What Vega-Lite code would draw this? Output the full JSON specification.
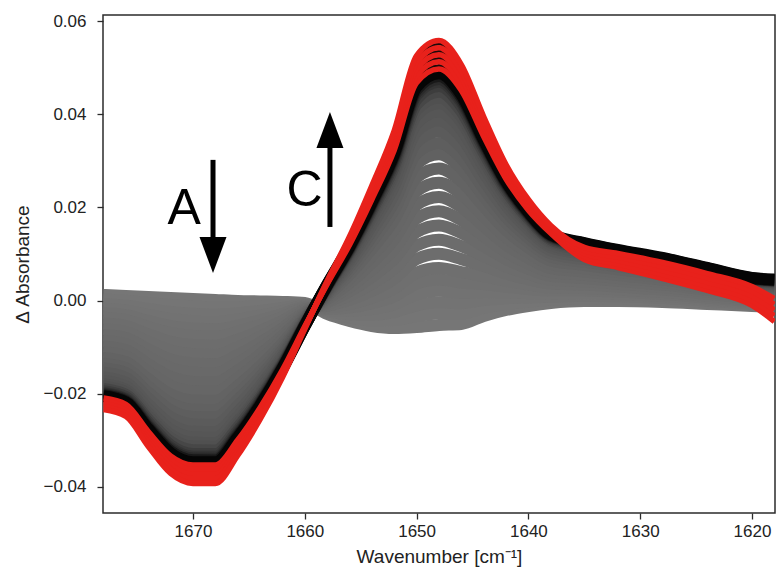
{
"$schema":"https://vega.github.io/schema/vega-lite/v6.json",
"width":672,"height":498,
"autosize":{"type":"none"},
"padding":{"left":103,"top":15,"right":3,"bottom":64},
"background":"white",
"config":{"view":{"stroke":"#2b2b2b","strokeWidth":1.5},"font":"Liberation Sans",
"axis":{"grid":false,"domain":false,"tickSize":6,"tickColor":"#2b2b2b","tickWidth":1.3,"labelFont":"Liberation Sans","titleFont":"Liberation Sans","labelFontSize":17,"titleFontSize":19,"labelColor":"#222","titleColor":"#222","titleFontWeight":"normal"}},
"datasets":{
"spectra":[
{"s":1,"x":1678,"y":0.0012},{"s":1,"x":1676,"y":0.00099},{"s":1,"x":1674,"y":0.00077},{"s":1,"x":1672,"y":0.00056},{"s":1,"x":1670,"y":0.00034},{"s":1,"x":1668,"y":0.00013},{"s":1,"x":1666,"y":-0.00009},{"s":1,"x":1664,"y":-0.00019},{"s":1,"x":1662,"y":-0.0003},{"s":1,"x":1660,"y":-0.00052},{"s":1,"x":1658,"y":-0.00288},{"s":1,"x":1656,"y":-0.00438},{"s":1,"x":1654,"y":-0.00545},{"s":1,"x":1652,"y":-0.00588},{"s":1,"x":1650,"y":-0.00567},{"s":1,"x":1648,"y":-0.00524},{"s":1,"x":1646,"y":-0.00502},{"s":1,"x":1644,"y":-0.0033},{"s":1,"x":1642,"y":-0.00202},{"s":1,"x":1640,"y":-0.00116},{"s":1,"x":1638,"y":-0.00052},{"s":1,"x":1635,"y":-0.00009},{"s":1,"x":1632,"y":-0.00009},{"s":1,"x":1628,"y":-0.0003},{"s":1,"x":1624,"y":-0.00073},{"s":1,"x":1620,"y":-0.00116},{"s":1,"x":1618,"y":-0.00137},
{"s":2,"x":1678,"y":0.00022},{"s":2,"x":1676,"y":-0.00004},{"s":2,"x":1674,"y":-0.00051},{"s":2,"x":1672,"y":-0.00095},{"s":2,"x":1670,"y":-0.00124},{"s":2,"x":1668,"y":-0.00145},{"s":2,"x":1666,"y":-0.00142},{"s":2,"x":1664,"y":-0.0012},{"s":2,"x":1662,"y":-0.00095},{"s":2,"x":1660,"y":-0.00074},{"s":2,"x":1658,"y":-0.0026},{"s":2,"x":1656,"y":-0.00365},{"s":2,"x":1654,"y":-0.00424},{"s":2,"x":1652,"y":-0.00419},{"s":2,"x":1650,"y":-0.00334},{"s":2,"x":1648,"y":-0.0028},{"s":2,"x":1646,"y":-0.00279},{"s":2,"x":1644,"y":-0.00159},{"s":2,"x":1642,"y":-0.00077},{"s":2,"x":1640,"y":-0.00025},{"s":2,"x":1638,"y":0.00015},{"s":2,"x":1635,"y":0.00047},{"s":2,"x":1632,"y":0.00041},{"s":2,"x":1628,"y":0.00013},{"s":2,"x":1624,"y":-0.00038},{"s":2,"x":1620,"y":-0.00089},{"s":2,"x":1618,"y":-0.0011},
{"s":3,"x":1678,"y":-0.00077},{"s":3,"x":1676,"y":-0.00108},{"s":3,"x":1674,"y":-0.0018},{"s":3,"x":1672,"y":-0.00245},{"s":3,"x":1670,"y":-0.00283},{"s":3,"x":1668,"y":-0.00302},{"s":3,"x":1666,"y":-0.00274},{"s":3,"x":1664,"y":-0.00222},{"s":3,"x":1662,"y":-0.0016},{"s":3,"x":1660,"y":-0.00097},{"s":3,"x":1658,"y":-0.00231},{"s":3,"x":1656,"y":-0.00293},{"s":3,"x":1654,"y":-0.00304},{"s":3,"x":1652,"y":-0.00249},{"s":3,"x":1650,"y":-0.00101},{"s":3,"x":1648,"y":-0.00036},{"s":3,"x":1646,"y":-0.00057},{"s":3,"x":1644,"y":0.00013},{"s":3,"x":1642,"y":0.00048},{"s":3,"x":1640,"y":0.00067},{"s":3,"x":1638,"y":0.00081},{"s":3,"x":1635,"y":0.00104},{"s":3,"x":1632,"y":0.0009},{"s":3,"x":1628,"y":0.00055},{"s":3,"x":1624,"y":-0.00003},{"s":3,"x":1620,"y":-0.00062},{"s":3,"x":1618,"y":-0.00084},
{"s":4,"x":1678,"y":-0.00175},{"s":4,"x":1676,"y":-0.00211},{"s":4,"x":1674,"y":-0.00308},{"s":4,"x":1672,"y":-0.00396},{"s":4,"x":1670,"y":-0.00441},{"s":4,"x":1668,"y":-0.0046},{"s":4,"x":1666,"y":-0.00407},{"s":4,"x":1664,"y":-0.00323},{"s":4,"x":1662,"y":-0.00224},{"s":4,"x":1660,"y":-0.00119},{"s":4,"x":1658,"y":-0.00203},{"s":4,"x":1656,"y":-0.0022},{"s":4,"x":1654,"y":-0.00183},{"s":4,"x":1652,"y":-0.00079},{"s":4,"x":1650,"y":0.00132},{"s":4,"x":1648,"y":0.00209},{"s":4,"x":1646,"y":0.00166},{"s":4,"x":1644,"y":0.00184},{"s":4,"x":1642,"y":0.00173},{"s":4,"x":1640,"y":0.00158},{"s":4,"x":1638,"y":0.00148},{"s":4,"x":1635,"y":0.0016},{"s":4,"x":1632,"y":0.0014},{"s":4,"x":1628,"y":0.00098},{"s":4,"x":1624,"y":0.00032},{"s":4,"x":1620,"y":-0.00035},{"s":4,"x":1618,"y":-0.00057},
{"s":5,"x":1678,"y":-0.00273},{"s":5,"x":1676,"y":-0.00315},{"s":5,"x":1674,"y":-0.00436},{"s":5,"x":1672,"y":-0.00547},{"s":5,"x":1670,"y":-0.00599},{"s":5,"x":1668,"y":-0.00617},{"s":5,"x":1666,"y":-0.00539},{"s":5,"x":1664,"y":-0.00424},{"s":5,"x":1662,"y":-0.00289},{"s":5,"x":1660,"y":-0.00141},{"s":5,"x":1658,"y":-0.00175},{"s":5,"x":1656,"y":-0.00148},{"s":5,"x":1654,"y":-0.00063},{"s":5,"x":1652,"y":0.0009},{"s":5,"x":1650,"y":0.00365},{"s":5,"x":1648,"y":0.00453},{"s":5,"x":1646,"y":0.00389},{"s":5,"x":1644,"y":0.00355},{"s":5,"x":1642,"y":0.00298},{"s":5,"x":1640,"y":0.0025},{"s":5,"x":1638,"y":0.00214},{"s":5,"x":1635,"y":0.00216},{"s":5,"x":1632,"y":0.00189},{"s":5,"x":1628,"y":0.00141},{"s":5,"x":1624,"y":0.00067},{"s":5,"x":1620,"y":-0.00007},{"s":5,"x":1618,"y":-0.00031},
{"s":6,"x":1678,"y":-0.00371},{"s":6,"x":1676,"y":-0.00418},{"s":6,"x":1674,"y":-0.00565},{"s":6,"x":1672,"y":-0.00697},{"s":6,"x":1670,"y":-0.00758},{"s":6,"x":1668,"y":-0.00775},{"s":6,"x":1666,"y":-0.00672},{"s":6,"x":1664,"y":-0.00526},{"s":6,"x":1662,"y":-0.00354},{"s":6,"x":1660,"y":-0.00163},{"s":6,"x":1658,"y":-0.00146},{"s":6,"x":1656,"y":-0.00075},{"s":6,"x":1654,"y":0.00058},{"s":6,"x":1652,"y":0.0026},{"s":6,"x":1650,"y":0.00598},{"s":6,"x":1648,"y":0.00697},{"s":6,"x":1646,"y":0.00612},{"s":6,"x":1644,"y":0.00526},{"s":6,"x":1642,"y":0.00423},{"s":6,"x":1640,"y":0.00341},{"s":6,"x":1638,"y":0.00281},{"s":6,"x":1635,"y":0.00272},{"s":6,"x":1632,"y":0.00239},{"s":6,"x":1628,"y":0.00183},{"s":6,"x":1624,"y":0.00102},{"s":6,"x":1620,"y":0.0002},{"s":6,"x":1618,"y":-0.00004},
{"s":7,"x":1678,"y":-0.00494},{"s":7,"x":1676,"y":-0.00548},{"s":7,"x":1674,"y":-0.00725},{"s":7,"x":1672,"y":-0.00886},{"s":7,"x":1670,"y":-0.00956},{"s":7,"x":1668,"y":-0.00972},{"s":7,"x":1666,"y":-0.00838},{"s":7,"x":1664,"y":-0.00652},{"s":7,"x":1662,"y":-0.00435},{"s":7,"x":1660,"y":-0.00191},{"s":7,"x":1658,"y":-0.00111},{"s":7,"x":1656,"y":0.00016},{"s":7,"x":1654,"y":0.00209},{"s":7,"x":1652,"y":0.00472},{"s":7,"x":1650,"y":0.0089},{"s":7,"x":1648,"y":0.01003},{"s":7,"x":1646,"y":0.0089},{"s":7,"x":1644,"y":0.0074},{"s":7,"x":1642,"y":0.00579},{"s":7,"x":1640,"y":0.00456},{"s":7,"x":1638,"y":0.00364},{"s":7,"x":1635,"y":0.00343},{"s":7,"x":1632,"y":0.003},{"s":7,"x":1628,"y":0.00237},{"s":7,"x":1624,"y":0.00145},{"s":7,"x":1620,"y":0.00054},{"s":7,"x":1618,"y":0.00029},
{"s":8,"x":1678,"y":-0.00617},{"s":8,"x":1676,"y":-0.00677},{"s":8,"x":1674,"y":-0.00885},{"s":8,"x":1672,"y":-0.01074},{"s":8,"x":1670,"y":-0.01154},{"s":8,"x":1668,"y":-0.01168},{"s":8,"x":1666,"y":-0.01004},{"s":8,"x":1664,"y":-0.00779},{"s":8,"x":1662,"y":-0.00516},{"s":8,"x":1660,"y":-0.00219},{"s":8,"x":1658,"y":-0.00075},{"s":8,"x":1656,"y":0.00106},{"s":8,"x":1654,"y":0.0036},{"s":8,"x":1652,"y":0.00683},{"s":8,"x":1650,"y":0.01181},{"s":8,"x":1648,"y":0.01308},{"s":8,"x":1646,"y":0.01169},{"s":8,"x":1644,"y":0.00954},{"s":8,"x":1642,"y":0.00735},{"s":8,"x":1640,"y":0.0057},{"s":8,"x":1638,"y":0.00447},{"s":8,"x":1635,"y":0.00413},{"s":8,"x":1632,"y":0.00362},{"s":8,"x":1628,"y":0.0029},{"s":8,"x":1624,"y":0.00189},{"s":8,"x":1620,"y":0.00088},{"s":8,"x":1618,"y":0.00062},
{"s":9,"x":1678,"y":-0.0074},{"s":9,"x":1676,"y":-0.00806},{"s":9,"x":1674,"y":-0.01046},{"s":9,"x":1672,"y":-0.01262},{"s":9,"x":1670,"y":-0.01352},{"s":9,"x":1668,"y":-0.01365},{"s":9,"x":1666,"y":-0.01169},{"s":9,"x":1664,"y":-0.00906},{"s":9,"x":1662,"y":-0.00597},{"s":9,"x":1660,"y":-0.00247},{"s":9,"x":1658,"y":-0.0004},{"s":9,"x":1656,"y":0.00197},{"s":9,"x":1654,"y":0.0051},{"s":9,"x":1652,"y":0.00895},{"s":9,"x":1650,"y":0.01473},{"s":9,"x":1648,"y":0.01613},{"s":9,"x":1646,"y":0.01447},{"s":9,"x":1644,"y":0.01168},{"s":9,"x":1642,"y":0.00891},{"s":9,"x":1640,"y":0.00684},{"s":9,"x":1638,"y":0.0053},{"s":9,"x":1635,"y":0.00483},{"s":9,"x":1632,"y":0.00424},{"s":9,"x":1628,"y":0.00343},{"s":9,"x":1624,"y":0.00233},{"s":9,"x":1620,"y":0.00122},{"s":9,"x":1618,"y":0.00095},
{"s":10,"x":1678,"y":-0.00863},{"s":10,"x":1676,"y":-0.00935},{"s":10,"x":1674,"y":-0.01206},{"s":10,"x":1672,"y":-0.0145},{"s":10,"x":1670,"y":-0.0155},{"s":10,"x":1668,"y":-0.01562},{"s":10,"x":1666,"y":-0.01335},{"s":10,"x":1664,"y":-0.01032},{"s":10,"x":1662,"y":-0.00678},{"s":10,"x":1660,"y":-0.00275},{"s":10,"x":1658,"y":-0.00004},{"s":10,"x":1656,"y":0.00288},{"s":10,"x":1654,"y":0.00661},{"s":10,"x":1652,"y":0.01107},{"s":10,"x":1650,"y":0.01764},{"s":10,"x":1648,"y":0.01918},{"s":10,"x":1646,"y":0.01726},{"s":10,"x":1644,"y":0.01382},{"s":10,"x":1642,"y":0.01047},{"s":10,"x":1640,"y":0.00798},{"s":10,"x":1638,"y":0.00614},{"s":10,"x":1635,"y":0.00554},{"s":10,"x":1632,"y":0.00486},{"s":10,"x":1628,"y":0.00397},{"s":10,"x":1624,"y":0.00276},{"s":10,"x":1620,"y":0.00156},{"s":10,"x":1618,"y":0.00128},
{"s":11,"x":1678,"y":-0.00986},{"s":11,"x":1676,"y":-0.01065},{"s":11,"x":1674,"y":-0.01367},{"s":11,"x":1672,"y":-0.01639},{"s":11,"x":1670,"y":-0.01748},{"s":11,"x":1668,"y":-0.01759},{"s":11,"x":1666,"y":-0.01501},{"s":11,"x":1664,"y":-0.01159},{"s":11,"x":1662,"y":-0.00759},{"s":11,"x":1660,"y":-0.00303},{"s":11,"x":1658,"y":0.00031},{"s":11,"x":1656,"y":0.00378},{"s":11,"x":1654,"y":0.00812},{"s":11,"x":1652,"y":0.01319},{"s":11,"x":1650,"y":0.02055},{"s":11,"x":1648,"y":0.02224},{"s":11,"x":1646,"y":0.02004},{"s":11,"x":1644,"y":0.01597},{"s":11,"x":1642,"y":0.01203},{"s":11,"x":1640,"y":0.00913},{"s":11,"x":1638,"y":0.00697},{"s":11,"x":1635,"y":0.00624},{"s":11,"x":1632,"y":0.00548},{"s":11,"x":1628,"y":0.0045},{"s":11,"x":1624,"y":0.0032},{"s":11,"x":1620,"y":0.0019},{"s":11,"x":1618,"y":0.00162},
{"s":12,"x":1678,"y":-0.01109},{"s":12,"x":1676,"y":-0.01194},{"s":12,"x":1674,"y":-0.01527},{"s":12,"x":1672,"y":-0.01827},{"s":12,"x":1670,"y":-0.01946},{"s":12,"x":1668,"y":-0.01956},{"s":12,"x":1666,"y":-0.01667},{"s":12,"x":1664,"y":-0.01286},{"s":12,"x":1662,"y":-0.0084},{"s":12,"x":1660,"y":-0.00331},{"s":12,"x":1658,"y":0.00067},{"s":12,"x":1656,"y":0.00469},{"s":12,"x":1654,"y":0.00963},{"s":12,"x":1652,"y":0.01531},{"s":12,"x":1650,"y":0.02347},{"s":12,"x":1648,"y":0.02529},{"s":12,"x":1646,"y":0.02283},{"s":12,"x":1644,"y":0.01811},{"s":12,"x":1642,"y":0.0136},{"s":12,"x":1640,"y":0.01027},{"s":12,"x":1638,"y":0.0078},{"s":12,"x":1635,"y":0.00694},{"s":12,"x":1632,"y":0.0061},{"s":12,"x":1628,"y":0.00503},{"s":12,"x":1624,"y":0.00364},{"s":12,"x":1620,"y":0.00224},{"s":12,"x":1618,"y":0.00195},
{"s":13,"x":1678,"y":-0.01231},{"s":13,"x":1676,"y":-0.01323},{"s":13,"x":1674,"y":-0.01687},{"s":13,"x":1672,"y":-0.02015},{"s":13,"x":1670,"y":-0.02144},{"s":13,"x":1668,"y":-0.02153},{"s":13,"x":1666,"y":-0.01832},{"s":13,"x":1664,"y":-0.01412},{"s":13,"x":1662,"y":-0.00921},{"s":13,"x":1660,"y":-0.00358},{"s":13,"x":1658,"y":0.00102},{"s":13,"x":1656,"y":0.0056},{"s":13,"x":1654,"y":0.01113},{"s":13,"x":1652,"y":0.01743},{"s":13,"x":1650,"y":0.02638},{"s":13,"x":1648,"y":0.02834},{"s":13,"x":1646,"y":0.02561},{"s":13,"x":1644,"y":0.02025},{"s":13,"x":1642,"y":0.01516},{"s":13,"x":1640,"y":0.01141},{"s":13,"x":1638,"y":0.00863},{"s":13,"x":1635,"y":0.00765},{"s":13,"x":1632,"y":0.00672},{"s":13,"x":1628,"y":0.00557},{"s":13,"x":1624,"y":0.00407},{"s":13,"x":1620,"y":0.00258},{"s":13,"x":1618,"y":0.00228},
{"s":14,"x":1678,"y":-0.01354},{"s":14,"x":1676,"y":-0.01453},{"s":14,"x":1674,"y":-0.01848},{"s":14,"x":1672,"y":-0.02204},{"s":14,"x":1670,"y":-0.02341},{"s":14,"x":1668,"y":-0.0235},{"s":14,"x":1666,"y":-0.01998},{"s":14,"x":1664,"y":-0.01539},{"s":14,"x":1662,"y":-0.01002},{"s":14,"x":1660,"y":-0.00386},{"s":14,"x":1658,"y":0.00137},{"s":14,"x":1656,"y":0.0065},{"s":14,"x":1654,"y":0.01264},{"s":14,"x":1652,"y":0.01955},{"s":14,"x":1650,"y":0.02929},{"s":14,"x":1648,"y":0.0314},{"s":14,"x":1646,"y":0.02839},{"s":14,"x":1644,"y":0.02239},{"s":14,"x":1642,"y":0.01672},{"s":14,"x":1640,"y":0.01256},{"s":14,"x":1638,"y":0.00946},{"s":14,"x":1635,"y":0.00835},{"s":14,"x":1632,"y":0.00733},{"s":14,"x":1628,"y":0.0061},{"s":14,"x":1624,"y":0.00451},{"s":14,"x":1620,"y":0.00292},{"s":14,"x":1618,"y":0.00261},
{"s":15,"x":1678,"y":-0.01453},{"s":15,"x":1676,"y":-0.01556},{"s":15,"x":1674,"y":-0.01976},{"s":15,"x":1672,"y":-0.02354},{"s":15,"x":1670,"y":-0.025},{"s":15,"x":1668,"y":-0.02507},{"s":15,"x":1666,"y":-0.02131},{"s":15,"x":1664,"y":-0.0164},{"s":15,"x":1662,"y":-0.01067},{"s":15,"x":1660,"y":-0.00409},{"s":15,"x":1658,"y":0.00166},{"s":15,"x":1656,"y":0.00723},{"s":15,"x":1654,"y":0.01385},{"s":15,"x":1652,"y":0.02124},{"s":15,"x":1650,"y":0.03162},{"s":15,"x":1648,"y":0.03384},{"s":15,"x":1646,"y":0.03062},{"s":15,"x":1644,"y":0.0241},{"s":15,"x":1642,"y":0.01797},{"s":15,"x":1640,"y":0.01347},{"s":15,"x":1638,"y":0.01013},{"s":15,"x":1635,"y":0.00891},{"s":15,"x":1632,"y":0.00783},{"s":15,"x":1628,"y":0.00653},{"s":15,"x":1624,"y":0.00486},{"s":15,"x":1620,"y":0.00319},{"s":15,"x":1618,"y":0.00288},
{"s":16,"x":1678,"y":-0.01551},{"s":16,"x":1676,"y":-0.0166},{"s":16,"x":1674,"y":-0.02104},{"s":16,"x":1672,"y":-0.02505},{"s":16,"x":1670,"y":-0.02658},{"s":16,"x":1668,"y":-0.02665},{"s":16,"x":1666,"y":-0.02263},{"s":16,"x":1664,"y":-0.01741},{"s":16,"x":1662,"y":-0.01132},{"s":16,"x":1660,"y":-0.00431},{"s":16,"x":1658,"y":0.00194},{"s":16,"x":1656,"y":0.00796},{"s":16,"x":1654,"y":0.01505},{"s":16,"x":1652,"y":0.02294},{"s":16,"x":1650,"y":0.03395},{"s":16,"x":1648,"y":0.03628},{"s":16,"x":1646,"y":0.03285},{"s":16,"x":1644,"y":0.02581},{"s":16,"x":1642,"y":0.01922},{"s":16,"x":1640,"y":0.01439},{"s":16,"x":1638,"y":0.01079},{"s":16,"x":1635,"y":0.00948},{"s":16,"x":1632,"y":0.00832},{"s":16,"x":1628,"y":0.00695},{"s":16,"x":1624,"y":0.00521},{"s":16,"x":1620,"y":0.00346},{"s":16,"x":1618,"y":0.00314},
{"s":17,"x":1678,"y":-0.01649},{"s":17,"x":1676,"y":-0.01763},{"s":17,"x":1674,"y":-0.02233},{"s":17,"x":1672,"y":-0.02656},{"s":17,"x":1670,"y":-0.02817},{"s":17,"x":1668,"y":-0.02822},{"s":17,"x":1666,"y":-0.02396},{"s":17,"x":1664,"y":-0.01843},{"s":17,"x":1662,"y":-0.01196},{"s":17,"x":1660,"y":-0.00453},{"s":17,"x":1658,"y":0.00223},{"s":17,"x":1656,"y":0.00868},{"s":17,"x":1654,"y":0.01626},{"s":17,"x":1652,"y":0.02463},{"s":17,"x":1650,"y":0.03628},{"s":17,"x":1648,"y":0.03872},{"s":17,"x":1646,"y":0.03508},{"s":17,"x":1644,"y":0.02752},{"s":17,"x":1642,"y":0.02047},{"s":17,"x":1640,"y":0.0153},{"s":17,"x":1638,"y":0.01146},{"s":17,"x":1635,"y":0.01004},{"s":17,"x":1632,"y":0.00882},{"s":17,"x":1628,"y":0.00738},{"s":17,"x":1624,"y":0.00556},{"s":17,"x":1620,"y":0.00373},{"s":17,"x":1618,"y":0.00341},
{"s":18,"x":1678,"y":-0.01723},{"s":18,"x":1676,"y":-0.01841},{"s":18,"x":1674,"y":-0.02329},{"s":18,"x":1672,"y":-0.02769},{"s":18,"x":1670,"y":-0.02935},{"s":18,"x":1668,"y":-0.02941},{"s":18,"x":1666,"y":-0.02495},{"s":18,"x":1664,"y":-0.01919},{"s":18,"x":1662,"y":-0.01245},{"s":18,"x":1660,"y":-0.0047},{"s":18,"x":1658,"y":0.00244},{"s":18,"x":1656,"y":0.00923},{"s":18,"x":1654,"y":0.01716},{"s":18,"x":1652,"y":0.02591},{"s":18,"x":1650,"y":0.03803},{"s":18,"x":1648,"y":0.04056},{"s":18,"x":1646,"y":0.03675},{"s":18,"x":1644,"y":0.02881},{"s":18,"x":1642,"y":0.0214},{"s":18,"x":1640,"y":0.01599},{"s":18,"x":1638,"y":0.01196},{"s":18,"x":1635,"y":0.01046},{"s":18,"x":1632,"y":0.00919},{"s":18,"x":1628,"y":0.0077},{"s":18,"x":1624,"y":0.00582},{"s":18,"x":1620,"y":0.00393},{"s":18,"x":1618,"y":0.00361},
{"s":19,"x":1678,"y":-0.01797},{"s":19,"x":1676,"y":-0.01918},{"s":19,"x":1674,"y":-0.02425},{"s":19,"x":1672,"y":-0.02882},{"s":19,"x":1670,"y":-0.03054},{"s":19,"x":1668,"y":-0.03059},{"s":19,"x":1666,"y":-0.02595},{"s":19,"x":1664,"y":-0.01995},{"s":19,"x":1662,"y":-0.01294},{"s":19,"x":1660,"y":-0.00487},{"s":19,"x":1658,"y":0.00265},{"s":19,"x":1656,"y":0.00977},{"s":19,"x":1654,"y":0.01807},{"s":19,"x":1652,"y":0.02718},{"s":19,"x":1650,"y":0.03978},{"s":19,"x":1648,"y":0.04239},{"s":19,"x":1646,"y":0.03842},{"s":19,"x":1644,"y":0.03009},{"s":19,"x":1642,"y":0.02234},{"s":19,"x":1640,"y":0.01667},{"s":19,"x":1638,"y":0.01246},{"s":19,"x":1635,"y":0.01088},{"s":19,"x":1632,"y":0.00956},{"s":19,"x":1628,"y":0.00802},{"s":19,"x":1624,"y":0.00608},{"s":19,"x":1620,"y":0.00414},{"s":19,"x":1618,"y":0.0038},
{"s":20,"x":1678,"y":-0.01846},{"s":20,"x":1676,"y":-0.0197},{"s":20,"x":1674,"y":-0.02489},{"s":20,"x":1672,"y":-0.02957},{"s":20,"x":1670,"y":-0.03133},{"s":20,"x":1668,"y":-0.03137},{"s":20,"x":1666,"y":-0.02661},{"s":20,"x":1664,"y":-0.02045},{"s":20,"x":1662,"y":-0.01326},{"s":20,"x":1660,"y":-0.00498},{"s":20,"x":1658,"y":0.00279},{"s":20,"x":1656,"y":0.01013},{"s":20,"x":1654,"y":0.01867},{"s":20,"x":1652,"y":0.02802},{"s":20,"x":1650,"y":0.04095},{"s":20,"x":1648,"y":0.04361},{"s":20,"x":1646,"y":0.03953},{"s":20,"x":1644,"y":0.03095},{"s":20,"x":1642,"y":0.02296},{"s":20,"x":1640,"y":0.01713},{"s":20,"x":1638,"y":0.01279},{"s":20,"x":1635,"y":0.01117},{"s":20,"x":1632,"y":0.00981},{"s":20,"x":1628,"y":0.00823},{"s":20,"x":1624,"y":0.00626},{"s":20,"x":1620,"y":0.00427},{"s":20,"x":1618,"y":0.00394},
{"s":21,"x":1678,"y":-0.01895},{"s":21,"x":1676,"y":-0.02022},{"s":21,"x":1674,"y":-0.02554},{"s":21,"x":1672,"y":-0.03032},{"s":21,"x":1670,"y":-0.03212},{"s":21,"x":1668,"y":-0.03216},{"s":21,"x":1666,"y":-0.02727},{"s":21,"x":1664,"y":-0.02096},{"s":21,"x":1662,"y":-0.01358},{"s":21,"x":1660,"y":-0.00509},{"s":21,"x":1658,"y":0.00293},{"s":21,"x":1656,"y":0.0105},{"s":21,"x":1654,"y":0.01927},{"s":21,"x":1652,"y":0.02887},{"s":21,"x":1650,"y":0.04211},{"s":21,"x":1648,"y":0.04483},{"s":21,"x":1646,"y":0.04065},{"s":21,"x":1644,"y":0.0318},{"s":21,"x":1642,"y":0.02359},{"s":21,"x":1640,"y":0.01759},{"s":21,"x":1638,"y":0.01312},{"s":21,"x":1635,"y":0.01145},{"s":21,"x":1632,"y":0.01006},{"s":21,"x":1628,"y":0.00845},{"s":21,"x":1624,"y":0.00643},{"s":21,"x":1620,"y":0.00441},{"s":21,"x":1618,"y":0.00407},
{"s":22,"x":1678,"y":-0.01944},{"s":22,"x":1676,"y":-0.02073},{"s":22,"x":1674,"y":-0.02618},{"s":22,"x":1672,"y":-0.03107},{"s":22,"x":1670,"y":-0.03292},{"s":22,"x":1668,"y":-0.03295},{"s":22,"x":1666,"y":-0.02794},{"s":22,"x":1664,"y":-0.02147},{"s":22,"x":1662,"y":-0.01391},{"s":22,"x":1660,"y":-0.0052},{"s":22,"x":1658,"y":0.00308},{"s":22,"x":1656,"y":0.01086},{"s":22,"x":1654,"y":0.01988},{"s":22,"x":1652,"y":0.02972},{"s":22,"x":1650,"y":0.04328},{"s":22,"x":1648,"y":0.04605},{"s":22,"x":1646,"y":0.04176},{"s":22,"x":1644,"y":0.03266},{"s":22,"x":1642,"y":0.02421},{"s":22,"x":1640,"y":0.01804},{"s":22,"x":1638,"y":0.01346},{"s":22,"x":1635,"y":0.01173},{"s":22,"x":1632,"y":0.0103},{"s":22,"x":1628,"y":0.00866},{"s":22,"x":1624,"y":0.00661},{"s":22,"x":1620,"y":0.00455},{"s":22,"x":1618,"y":0.0042},
{"s":23,"x":1678,"y":-0.01981},{"s":23,"x":1676,"y":-0.02112},{"s":23,"x":1674,"y":-0.02666},{"s":23,"x":1672,"y":-0.03164},{"s":23,"x":1670,"y":-0.03351},{"s":23,"x":1668,"y":-0.03354},{"s":23,"x":1666,"y":-0.02843},{"s":23,"x":1664,"y":-0.02185},{"s":23,"x":1662,"y":-0.01415},{"s":23,"x":1660,"y":-0.00528},{"s":23,"x":1658,"y":0.00318},{"s":23,"x":1656,"y":0.01113},{"s":23,"x":1654,"y":0.02033},{"s":23,"x":1652,"y":0.03036},{"s":23,"x":1650,"y":0.04415},{"s":23,"x":1648,"y":0.04697},{"s":23,"x":1646,"y":0.0426},{"s":23,"x":1644,"y":0.0333},{"s":23,"x":1642,"y":0.02468},{"s":23,"x":1640,"y":0.01839},{"s":23,"x":1638,"y":0.01371},{"s":23,"x":1635,"y":0.01194},{"s":23,"x":1632,"y":0.01049},{"s":23,"x":1628,"y":0.00882},{"s":23,"x":1624,"y":0.00674},{"s":23,"x":1620,"y":0.00465},{"s":23,"x":1618,"y":0.0043},
{"s":24,"x":1678,"y":-0.02005},{"s":24,"x":1676,"y":-0.02138},{"s":24,"x":1674,"y":-0.02698},{"s":24,"x":1672,"y":-0.03202},{"s":24,"x":1670,"y":-0.03391},{"s":24,"x":1668,"y":-0.03393},{"s":24,"x":1666,"y":-0.02877},{"s":24,"x":1664,"y":-0.0221},{"s":24,"x":1662,"y":-0.01431},{"s":24,"x":1660,"y":-0.00534},{"s":24,"x":1658,"y":0.00325},{"s":24,"x":1656,"y":0.01131},{"s":24,"x":1654,"y":0.02063},{"s":24,"x":1652,"y":0.03078},{"s":24,"x":1650,"y":0.04473},{"s":24,"x":1648,"y":0.04758},{"s":24,"x":1646,"y":0.04315},{"s":24,"x":1644,"y":0.03373},{"s":24,"x":1642,"y":0.02499},{"s":24,"x":1640,"y":0.01861},{"s":24,"x":1638,"y":0.01387},{"s":24,"x":1635,"y":0.01208},{"s":24,"x":1632,"y":0.01061},{"s":24,"x":1628,"y":0.00893},{"s":24,"x":1624,"y":0.00682},{"s":24,"x":1620,"y":0.00471},{"s":24,"x":1618,"y":0.00437},
{"s":25,"x":1678,"y":-0.0203},{"s":25,"x":1676,"y":-0.02164},{"s":25,"x":1674,"y":-0.0273},{"s":25,"x":1672,"y":-0.03239},{"s":25,"x":1670,"y":-0.0343},{"s":25,"x":1668,"y":-0.03433},{"s":25,"x":1666,"y":-0.0291},{"s":25,"x":1664,"y":-0.02235},{"s":25,"x":1662,"y":-0.01448},{"s":25,"x":1660,"y":-0.00539},{"s":25,"x":1658,"y":0.00332},{"s":25,"x":1656,"y":0.01149},{"s":25,"x":1654,"y":0.02093},{"s":25,"x":1652,"y":0.0312},{"s":25,"x":1650,"y":0.04532},{"s":25,"x":1648,"y":0.04819},{"s":25,"x":1646,"y":0.04371},{"s":25,"x":1644,"y":0.03416},{"s":25,"x":1642,"y":0.02531},{"s":25,"x":1640,"y":0.01884},{"s":25,"x":1638,"y":0.01404},{"s":25,"x":1635,"y":0.01222},{"s":25,"x":1632,"y":0.01074},{"s":25,"x":1628,"y":0.00903},{"s":25,"x":1624,"y":0.00691},{"s":25,"x":1620,"y":0.00478},{"s":25,"x":1618,"y":0.00443},
{"s":26,"x":1678,"y":-0.02054},{"s":26,"x":1676,"y":-0.0219},{"s":26,"x":1674,"y":-0.02762},{"s":26,"x":1672,"y":-0.03277},{"s":26,"x":1670,"y":-0.0347},{"s":26,"x":1668,"y":-0.03472},{"s":26,"x":1666,"y":-0.02943},{"s":26,"x":1664,"y":-0.02261},{"s":26,"x":1662,"y":-0.01464},{"s":26,"x":1660,"y":-0.00545},{"s":26,"x":1658,"y":0.0034},{"s":26,"x":1656,"y":0.01167},{"s":26,"x":1654,"y":0.02123},{"s":26,"x":1652,"y":0.03163},{"s":26,"x":1650,"y":0.0459},{"s":26,"x":1648,"y":0.0488},{"s":26,"x":1646,"y":0.04427},{"s":26,"x":1644,"y":0.03459},{"s":26,"x":1642,"y":0.02562},{"s":26,"x":1640,"y":0.01907},{"s":26,"x":1638,"y":0.0142},{"s":26,"x":1635,"y":0.01236},{"s":26,"x":1632,"y":0.01086},{"s":26,"x":1628,"y":0.00914},{"s":26,"x":1624,"y":0.007},{"s":26,"x":1620,"y":0.00485},{"s":26,"x":1618,"y":0.0045},
{"s":27,"x":1678,"y":-0.02091},{"s":27,"x":1676,"y":-0.02228},{"s":27,"x":1674,"y":-0.0281},{"s":27,"x":1672,"y":-0.03333},{"s":27,"x":1670,"y":-0.03529},{"s":27,"x":1668,"y":-0.03531},{"s":27,"x":1666,"y":-0.02993},{"s":27,"x":1664,"y":-0.02299},{"s":27,"x":1662,"y":-0.01488},{"s":27,"x":1660,"y":-0.00553},{"s":27,"x":1658,"y":0.0035},{"s":27,"x":1656,"y":0.01195},{"s":27,"x":1654,"y":0.02169},{"s":27,"x":1652,"y":0.03226},{"s":27,"x":1650,"y":0.04677},{"s":27,"x":1648,"y":0.04971},{"s":27,"x":1646,"y":0.0451},{"s":27,"x":1644,"y":0.03523},{"s":27,"x":1642,"y":0.02609},{"s":27,"x":1640,"y":0.01941},{"s":27,"x":1638,"y":0.01445},{"s":27,"x":1635,"y":0.00882},{"s":27,"x":1632,"y":0.0071},{"s":27,"x":1628,"y":0.00474},{"s":27,"x":1624,"y":0.00217},{"s":27,"x":1620,"y":-0.00105},{"s":27,"x":1618,"y":-0.00449},
{"s":28,"x":1678,"y":-0.02153},{"s":28,"x":1676,"y":-0.02293},{"s":28,"x":1674,"y":-0.0289},{"s":28,"x":1672,"y":-0.03428},{"s":28,"x":1670,"y":-0.03628},{"s":28,"x":1668,"y":-0.0363},{"s":28,"x":1666,"y":-0.03075},{"s":28,"x":1664,"y":-0.02362},{"s":28,"x":1662,"y":-0.01529},{"s":28,"x":1660,"y":-0.00567},{"s":28,"x":1658,"y":0.00368},{"s":28,"x":1656,"y":0.0124},{"s":28,"x":1654,"y":0.02244},{"s":28,"x":1652,"y":0.03332},{"s":28,"x":1650,"y":0.04823},{"s":28,"x":1648,"y":0.05124},{"s":28,"x":1646,"y":0.04649},{"s":28,"x":1644,"y":0.0363},{"s":28,"x":1642,"y":0.02687},{"s":28,"x":1640,"y":0.01999},{"s":28,"x":1638,"y":0.01487},{"s":28,"x":1635,"y":0.00946},{"s":28,"x":1632,"y":0.00786},{"s":28,"x":1628,"y":0.0056},{"s":28,"x":1624,"y":0.00307},{"s":28,"x":1620,"y":-0.00003},{"s":28,"x":1618,"y":-0.00325},
{"s":29,"x":1678,"y":-0.02214},{"s":29,"x":1676,"y":-0.02358},{"s":29,"x":1674,"y":-0.02971},{"s":29,"x":1672,"y":-0.03522},{"s":29,"x":1670,"y":-0.03727},{"s":29,"x":1668,"y":-0.03728},{"s":29,"x":1666,"y":-0.03158},{"s":29,"x":1664,"y":-0.02425},{"s":29,"x":1662,"y":-0.01569},{"s":29,"x":1660,"y":-0.00581},{"s":29,"x":1658,"y":0.00386},{"s":29,"x":1656,"y":0.01285},{"s":29,"x":1654,"y":0.02319},{"s":29,"x":1652,"y":0.03438},{"s":29,"x":1650,"y":0.04969},{"s":29,"x":1648,"y":0.05277},{"s":29,"x":1646,"y":0.04789},{"s":29,"x":1644,"y":0.03737},{"s":29,"x":1642,"y":0.02765},{"s":29,"x":1640,"y":0.02056},{"s":29,"x":1638,"y":0.01529},{"s":29,"x":1635,"y":0.01011},{"s":29,"x":1632,"y":0.00861},{"s":29,"x":1628,"y":0.00646},{"s":29,"x":1624,"y":0.00398},{"s":29,"x":1620,"y":0.00099},{"s":29,"x":1618,"y":-0.00202},
{"s":30,"x":1678,"y":-0.02276},{"s":30,"x":1676,"y":-0.02422},{"s":30,"x":1674,"y":-0.03051},{"s":30,"x":1672,"y":-0.03616},{"s":30,"x":1670,"y":-0.03826},{"s":30,"x":1668,"y":-0.03827},{"s":30,"x":1666,"y":-0.03241},{"s":30,"x":1664,"y":-0.02489},{"s":30,"x":1662,"y":-0.0161},{"s":30,"x":1660,"y":-0.00595},{"s":30,"x":1658,"y":0.00403},{"s":30,"x":1656,"y":0.01331},{"s":30,"x":1654,"y":0.02395},{"s":30,"x":1652,"y":0.03544},{"s":30,"x":1650,"y":0.05114},{"s":30,"x":1648,"y":0.05429},{"s":30,"x":1646,"y":0.04928},{"s":30,"x":1644,"y":0.03844},{"s":30,"x":1642,"y":0.02843},{"s":30,"x":1640,"y":0.02113},{"s":30,"x":1638,"y":0.0157},{"s":30,"x":1635,"y":0.01075},{"s":30,"x":1632,"y":0.00936},{"s":30,"x":1628,"y":0.00732},{"s":30,"x":1624,"y":0.00489},{"s":30,"x":1620,"y":0.00201},{"s":30,"x":1618,"y":-0.00078},
{"s":31,"x":1678,"y":-0.02337},{"s":31,"x":1676,"y":-0.02487},{"s":31,"x":1674,"y":-0.03131},{"s":31,"x":1672,"y":-0.0371},{"s":31,"x":1670,"y":-0.03925},{"s":31,"x":1668,"y":-0.03925},{"s":31,"x":1666,"y":-0.03324},{"s":31,"x":1664,"y":-0.02552},{"s":31,"x":1662,"y":-0.0165},{"s":31,"x":1660,"y":-0.00609},{"s":31,"x":1658,"y":0.00421},{"s":31,"x":1656,"y":0.01376},{"s":31,"x":1654,"y":0.0247},{"s":31,"x":1652,"y":0.0365},{"s":31,"x":1650,"y":0.0526},{"s":31,"x":1648,"y":0.05582},{"s":31,"x":1646,"y":0.05067},{"s":31,"x":1644,"y":0.03951},{"s":31,"x":1642,"y":0.02921},{"s":31,"x":1640,"y":0.0217},{"s":31,"x":1638,"y":0.01612},{"s":31,"x":1635,"y":0.0114},{"s":31,"x":1632,"y":0.01011},{"s":31,"x":1628,"y":0.00818},{"s":31,"x":1624,"y":0.0058},{"s":31,"x":1620,"y":0.00303},{"s":31,"x":1618,"y":0.00045}
],
"stripes":[
{"s":32,"x":1654,"y":0.02207},{"s":32,"x":1652,"y":0.03279},{"s":32,"x":1650,"y":0.0475},{"s":32,"x":1648,"y":0.05048},{"s":32,"x":1646,"y":0.0458},{"s":32,"x":1644,"y":0.03577},{"s":32,"x":1642,"y":0.02648},
{"s":33,"x":1654,"y":0.02282},{"s":33,"x":1652,"y":0.03385},{"s":33,"x":1650,"y":0.04896},{"s":33,"x":1648,"y":0.05201},{"s":33,"x":1646,"y":0.04719},{"s":33,"x":1644,"y":0.03684},{"s":33,"x":1642,"y":0.02726},
{"s":34,"x":1654,"y":0.02357},{"s":34,"x":1652,"y":0.03491},{"s":34,"x":1650,"y":0.05042},{"s":34,"x":1648,"y":0.05353},{"s":34,"x":1646,"y":0.04859},{"s":34,"x":1644,"y":0.03791},{"s":34,"x":1642,"y":0.02804},
{"s":35,"x":1654,"y":0.02433},{"s":35,"x":1652,"y":0.03597},{"s":35,"x":1650,"y":0.05187},{"s":35,"x":1648,"y":0.05506},{"s":35,"x":1646,"y":0.04998},{"s":35,"x":1644,"y":0.03898},{"s":35,"x":1642,"y":0.02882}
],
"letters":[{"t":"A","x":1670.8,"y":0.01644},{"t":"C","x":1660.03,"y":0.0203}],
"shafts":[{"x":1668.21,"y":0.0302,"y2":0.012},{"x":1657.75,"y":0.0158,"y2":0.034}],
"headsDown":[{"x":1668.21,"y":0.00979}],
"headsUp":[{"x":1657.75,"y":0.03661}]
},
"layer":[
{"data":{"name":"spectra"},"transform":[{"filter":"datum.s <= 26"}],
"mark":{"type":"line","strokeWidth":12,"interpolate":"monotone","clip":true,"strokeCap":"butt"},
"encoding":{
"x":{"field":"x","type":"quantitative","scale":{"domain":[1617.94,1678.05],"reverse":true,"nice":false,"zero":false},"axis":{"title":"Wavenumber [cm⁻¹]","values":[1620,1630,1640,1650,1660,1670],"format":"d","labelPadding":4,"titlePadding":8}},
"y":{"field":"y","type":"quantitative","scale":{"domain":[-0.0456,0.0613],"nice":false,"zero":false},"axis":{"title":"Δ Absorbance","values":[-0.04,-0.02,0,0.02,0.04,0.06],"format":".2f","labelPadding":11,"titlePadding":10}},
"color":{"field":"s","type":"quantitative","scale":{"domain":[1,12,20,24,26],"range":["#767676","#666666","#505050","#2a2a2a","#050505"],"interpolate":"rgb"},"legend":null},
"detail":{"field":"s","type":"nominal"}}},
{"data":{"name":"stripes"},
"mark":{"type":"line","strokeWidth":3,"interpolate":"monotone","clip":true,"color":"#1a0a0a"},
"encoding":{"x":{"field":"x","type":"quantitative"},"y":{"field":"y","type":"quantitative"},"detail":{"field":"s","type":"nominal"}}},
{"data":{"name":"spectra"},"transform":[{"filter":"datum.s > 26"}],
"mark":{"type":"line","strokeWidth":5.5,"interpolate":"monotone","clip":true,"color":"#e8211b"},
"encoding":{"x":{"field":"x","type":"quantitative"},"y":{"field":"y","type":"quantitative"},"detail":{"field":"s","type":"nominal"}}},
{"data":{"name":"shafts"},"mark":{"type":"rule","strokeWidth":5,"color":"#000"},
"encoding":{"x":{"field":"x","type":"quantitative"},"y":{"field":"y","type":"quantitative"},"y2":{"field":"y2"}}},
{"data":{"name":"headsDown"},"mark":{"type":"point","shape":"M-0.75,-1L0.75,-1L0,1Z","size":1296,"filled":true,"opacity":1,"color":"#000","strokeWidth":0},
"encoding":{"x":{"field":"x","type":"quantitative"},"y":{"field":"y","type":"quantitative"}}},
{"data":{"name":"headsUp"},"mark":{"type":"point","shape":"M-0.75,1L0.75,1L0,-1Z","size":1296,"filled":true,"opacity":1,"color":"#000","strokeWidth":0},
"encoding":{"x":{"field":"x","type":"quantitative"},"y":{"field":"y","type":"quantitative"}}},
{"data":{"name":"letters"},"mark":{"type":"text","fontSize":50,"font":"Liberation Sans","align":"center","baseline":"alphabetic","color":"#000"},
"encoding":{"x":{"field":"x","type":"quantitative"},"y":{"field":"y","type":"quantitative"},"text":{"field":"t"}}}
]
}
